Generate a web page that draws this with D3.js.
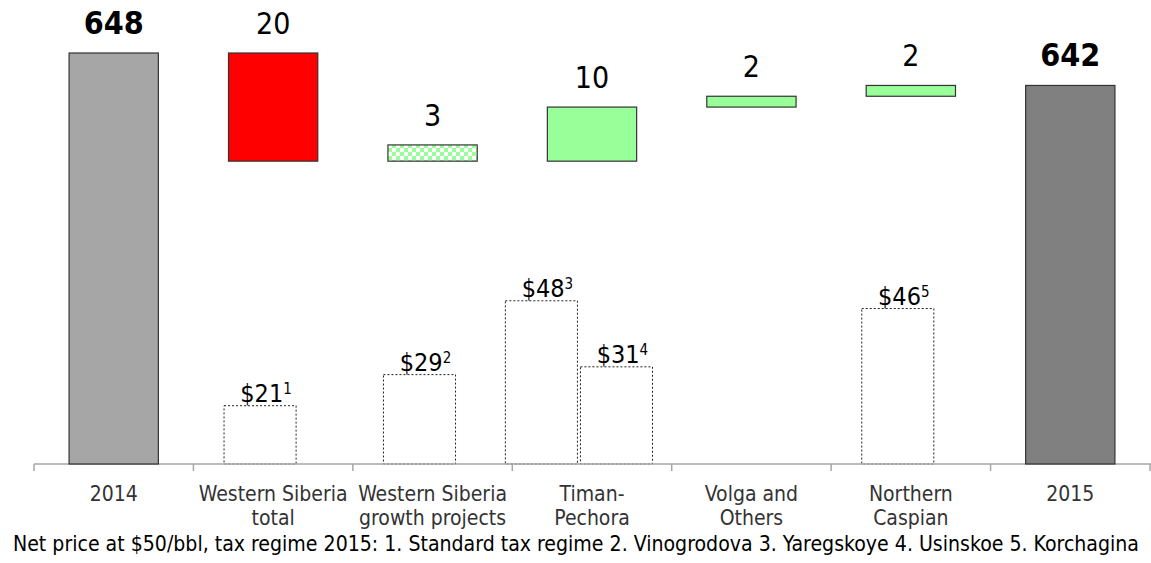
<!DOCTYPE html>
<html>
<head>
<meta charset="utf-8">
<script src="https://cdn.jsdelivr.net/npm/d3@7"></script>
<style>
  html, body { margin: 0; padding: 0; background: #fff; }
  svg { display: block; }
  text { font-family: "DejaVu Sans Condensed", "DejaVu Sans", sans-serif; font-stretch: condensed; }
</style>
</head>
<body>
<svg id="chart" width="1151" height="563"></svg>
<script>
// Production bridge categories (x axis), one label line per array item
const categories = ["2014", "Western Siberia total", "Western Siberia growth projects",
                    "Timan-Pechora", "Volga and Others", "Northern Caspian", "2015"];
const categoryLines = [["2014"], ["Western Siberia", "total"], ["Western Siberia", "growth projects"],
                       ["Timan-", "Pechora"], ["Volga and", "Others"], ["Northern", "Caspian"], ["2015"]];

// Waterfall steps: totals, a decline, a sub-item (not added to the running level) and increases
const stepValues = [648, -20, 3, 10, 2, 2, 642];
const stepKinds  = ["total", "decrease", "sub", "increase", "increase", "increase", "total"];

// Net price per barrel boxes with footnote markers
const priceCategories = ["Western Siberia total", "Western Siberia growth projects",
                         "Timan-Pechora", "Timan-Pechora", "Northern Caspian"];
const priceValues = [21, 29, 48, 31, 46];
const priceNotes  = ["1", "2", "3", "4", "5"];

const footnote = "Net price at $50/bbl, tax regime 2015: 1. Standard tax regime 2. Vinogrodova 3. Yaregskoye 4. Usinskoe 5. Korchagina";

const svg = d3.select("#chart");

const baseY = 464;
const x = d3.scaleBand().domain(categories).range([34, 1150]).padding(0);
const y = d3.scaleLinear().domain([572, 648]).range([baseY, 53]);
// price boxes share the baseline but use their own (truncated) scale
const yPrice = d3.scaleLinear().domain([6, 50]).range([baseY, baseY - 171]);

const barW = x.bandwidth() * 0.56;
const boxW = x.bandwidth() * 0.452;
const boxGap = 3;
const boxShift = -x.bandwidth() * 0.082;

// checkered fill for the growth-projects sub-item
const defs = svg.append("defs");
const pat = defs.append("pattern").attr("id", "checker")
  .attr("patternUnits", "userSpaceOnUse").attr("width", 8).attr("height", 8);
pat.append("rect").attr("width", 8).attr("height", 8).attr("fill", "#ffffff");
pat.append("rect").attr("width", 4).attr("height", 4).attr("fill", "#99ff99");
pat.append("rect").attr("x", 4).attr("y", 4).attr("width", 4).attr("height", 4).attr("fill", "#99ff99");

// build waterfall segments
let level = 0;
const steps = stepValues.map((v, i) => {
  const kind = stepKinds[i];
  let lo, hi;
  if (kind === "total") { lo = y.domain()[0]; hi = v; level = v; }
  else if (kind === "decrease") { hi = level; lo = level + v; level = lo; }
  else if (kind === "sub") { lo = level; hi = level + v; }
  else { lo = level; hi = level + v; level = hi; }
  return { cat: categories[i], value: v, kind, lo, hi, index: i };
});

const fillFor = d => {
  if (d.kind === "total") return d.index === 0 ? "#a6a6a6" : "#808080";
  if (d.kind === "decrease") return "#ff0000";
  if (d.kind === "sub") return "url(#checker)";
  return "#99ff99";
};

// price boxes (dotted), laid out side by side within a category
const priceData = priceValues.map((v, i) => ({ cat: priceCategories[i], value: v, note: priceNotes[i] }));
const groups = d3.group(priceData, d => d.cat);
groups.forEach(list => list.forEach((d, i) => {
  const n = list.length;
  d.cx = x(d.cat) + x.bandwidth() / 2 + boxShift + (i - (n - 1) / 2) * (boxW + boxGap);
}));

svg.append("g").selectAll("rect").data(priceData).join("rect")
  .attr("x", d => d.cx - boxW / 2)
  .attr("y", d => yPrice(d.value))
  .attr("width", boxW)
  .attr("height", d => baseY - yPrice(d.value))
  .attr("fill", "none")
  .attr("stroke", "#222")
  .attr("stroke-width", 1)
  .attr("stroke-dasharray", "2,2");

const priceLabels = svg.append("g").selectAll("text").data(priceData).join("text")
  .attr("x", d => d.cx + 6)
  .attr("y", d => yPrice(d.value) - 4)
  .attr("text-anchor", "middle")
  .attr("font-size", 25)
  .attr("fill", "#000");
priceLabels.append("tspan").text(d => "$" + d.value);
priceLabels.append("tspan").attr("font-size", 15).attr("dy", -8).text(d => d.note);

// axis line with ticks at category boundaries
const axis = svg.append("g").attr("transform", `translate(0,${baseY})`);
axis.append("line").attr("x1", 34).attr("x2", 1151).attr("y1", 0).attr("y2", 0)
  .attr("stroke", "#a6a6a6").attr("stroke-width", 1.5);
const bounds = categories.map(c => x(c)).concat([x.range()[1]]);
axis.selectAll("line.tick").data(bounds).join("line").attr("class", "tick")
  .attr("x1", d => d).attr("x2", d => d).attr("y1", 0).attr("y2", 7)
  .attr("stroke", "#a6a6a6").attr("stroke-width", 1.5);

// waterfall bars
svg.append("g").selectAll("rect").data(steps).join("rect")
  .attr("x", d => x(d.cat) + x.bandwidth() / 2 - barW / 2)
  .attr("y", d => y(d.hi))
  .attr("width", barW)
  .attr("height", d => y(d.lo) - y(d.hi))
  .attr("fill", fillFor)
  .attr("stroke", "#333")
  .attr("stroke-width", 1.2);

// value labels above the bars
svg.append("g").selectAll("text").data(steps).join("text")
  .attr("x", d => x(d.cat) + x.bandwidth() / 2)
  .attr("y", d => y(d.hi) - 19)
  .attr("text-anchor", "middle")
  .attr("font-size", d => d.kind === "total" ? 32 : 30)
  .attr("font-weight", d => d.kind === "total" ? "bold" : "normal")
  .attr("fill", "#000")
  .text(d => Math.abs(d.value));

// category labels
const catLabels = svg.append("g").selectAll("text").data(categories).join("text")
  .attr("x", d => x(d) + x.bandwidth() / 2)
  .attr("y", 500.5)
  .attr("text-anchor", "middle")
  .attr("font-size", 21)
  .attr("fill", "#333");
catLabels.each(function(d, i) {
  const t = d3.select(this);
  categoryLines[i].forEach((line, j) => {
    t.append("tspan").attr("x", x(d) + x.bandwidth() / 2).attr("dy", j === 0 ? 0 : 24).text(line);
  });
});

// footnote
svg.append("text").attr("x", 13).attr("y", 550.5)
  .attr("font-size", 21.1).attr("fill", "#000").text(footnote);
</script>
</body>
</html>
